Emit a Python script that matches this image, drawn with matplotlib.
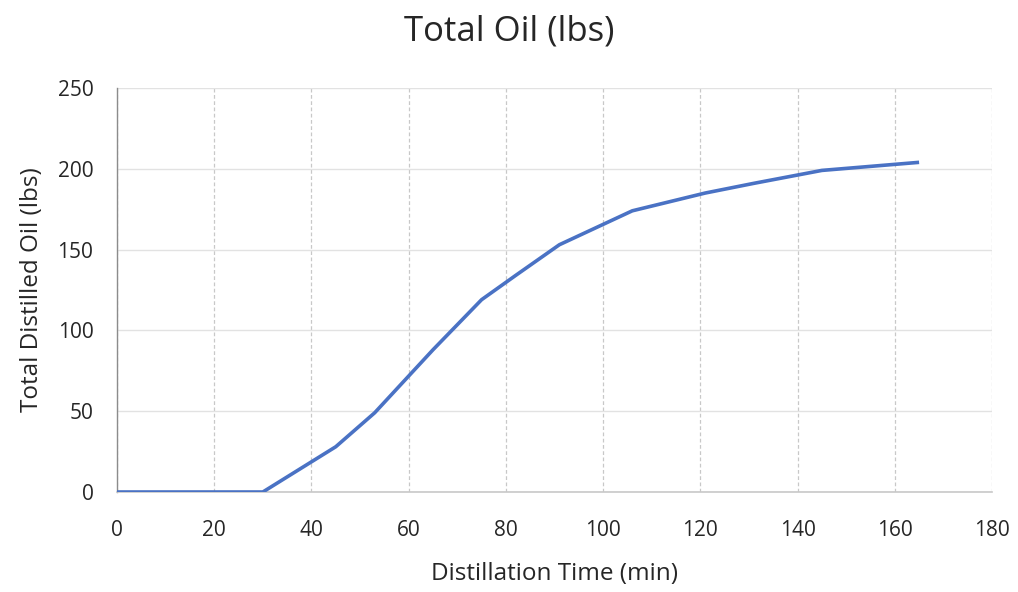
import matplotlib
matplotlib.use("Agg")
import matplotlib.pyplot as plt

plt.rcParams["font.family"] = ["Open Sans", "DejaVu Sans"]

# cumulative distilled oil over the run
time_min = [0, 30, 45, 53, 65, 75, 82, 91, 106, 121, 131, 145, 165]
oil_lbs = [0, 0, 28, 49, 88, 119, 134, 153, 174, 185, 191, 199, 204]

x_ticks = [0, 20, 40, 60, 80, 100, 120, 140, 160, 180]
y_ticks = [0, 50, 100, 150, 200, 250]

LINE = "#4a72c4"
TEXT = "#262626"

fig = plt.figure(figsize=(10.18, 5.92), dpi=100)
ax = fig.add_axes([117 / 1018, 1 - 492 / 592, (992 - 117) / 1018, (492 - 88) / 592])

ax.plot(time_min, oil_lbs, color=LINE, lw=2.6, solid_capstyle="butt",
        solid_joinstyle="round", zorder=3)

ax.set_xlim(0, 180)
ax.set_ylim(0, 250)
ax.set_xticks(x_ticks)
ax.set_yticks(y_ticks)
ax.tick_params(length=0, labelsize=15, colors=TEXT)
ax.tick_params(axis="y", pad=17)
ax.tick_params(axis="x", pad=20)

# light grid: dotted-looking verticals, faint horizontals
ax.grid(axis="x", color="#c8c8c8", lw=0.9, ls=(0, (3, 2)), zorder=0)
ax.grid(axis="y", color="#e2e2e2", lw=1.0, zorder=0)
ax.set_axisbelow(True)
for s in ("top", "right"):
    ax.spines[s].set_visible(False)
ax.spines["left"].set_color("#8c8c8c")
ax.spines["left"].set_linewidth(1.0)
ax.spines["bottom"].set_color("#c8c8c8")
ax.spines["bottom"].set_linewidth(1.2)

ax.set_xlabel("Distillation Time (min)", fontsize=17.5, color=TEXT, labelpad=15)
ax.set_ylabel("Total Distilled Oil (lbs)", fontsize=17.5, color=TEXT, labelpad=10)
fig.text(0.5, 1 - 40 / 592, "Total Oil (lbs)", ha="center", va="baseline",
         fontsize=25, color=TEXT)

fig.savefig("out.png", dpi=100, facecolor="white")
